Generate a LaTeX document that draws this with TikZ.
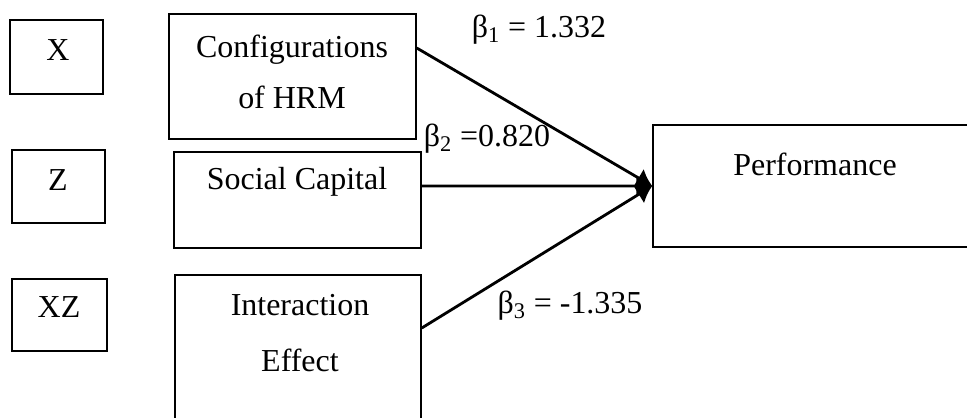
\documentclass[tikz,border=0pt]{standalone}
\usepackage{fontspec}
\setmainfont{Liberation Serif}
\usetikzlibrary{arrows.meta}

\begin{document}
\begin{tikzpicture}[x=0.02cm, y=-0.02cm, font=\fontsize{18.2}{21}\selectfont]
    \tikzstyle{box} = [draw, rectangle, line width=0.9pt, inner sep=0pt]
    \tikzstyle{txt} = [inner sep=0pt, align=center]
    \tikzstyle{link} = [draw, line width=1.6pt, -{Latex[length=9pt, width=12pt]}]
    \tikzstyle{coef} = [inner sep=0pt, anchor=center]

    \useasboundingbox (0,0) rectangle (967,417);

    % Symbol boxes
    \node[box, minimum width=1.86cm, minimum height=1.48cm] (bx) at (56.5,57) {};
    \node[box, minimum width=1.86cm, minimum height=1.46cm] (bz) at (58.5,186.5) {};
    \node[box, minimum width=1.90cm, minimum height=1.44cm] (bxz) at (59.5,315) {};
    \node[txt] (tx) at (58,50) {X};
    \node[txt] (tz) at (58,180) {Z};
    \node[txt] (txz) at (59,307) {XZ};

    % Variable boxes
    \node[box, minimum width=4.94cm, minimum height=2.50cm] (hrm) at (292.5,76.5) {};
    \node[box, minimum width=4.94cm, minimum height=1.92cm] (soc) at (297.5,200) {};
    \node[box, minimum width=4.92cm, minimum height=3.50cm] (inter) at (298,362.5) {};
    \node[box, minimum width=6.64cm, minimum height=2.44cm] (perf) at (819,186) {};

    \node[txt, font=\fontsize{18.2}{29}\selectfont] (thrm) at (292,72) {Configurations\\of HRM};
    \node[txt] (tsoc) at (297,182) {Social Capital};
    \node[txt, font=\fontsize{18.2}{32}\selectfont] (tinter) at (300,333) {Interaction\\Effect};
    \node[txt] (tperf) at (815,164) {Performance};

    % Paths to performance
    \draw[link] ([yshift=0.57cm]hrm.east) -- (perf.west);
    \draw[link] ([yshift=0.28cm]soc.east) -- (perf.west);
    \draw[link] ([yshift=0.69cm]inter.east) -- (perf.west);

    % Coefficients
    \node[coef] (b1) at (539,30) {β\textsubscript{1} = 1.332};
    \node[coef] (b2) at (487,139) {β\textsubscript{2} =0.820};
    \node[coef] (b3) at (570,306) {β\textsubscript{3} = -1.335};
\end{tikzpicture}
\end{document}
